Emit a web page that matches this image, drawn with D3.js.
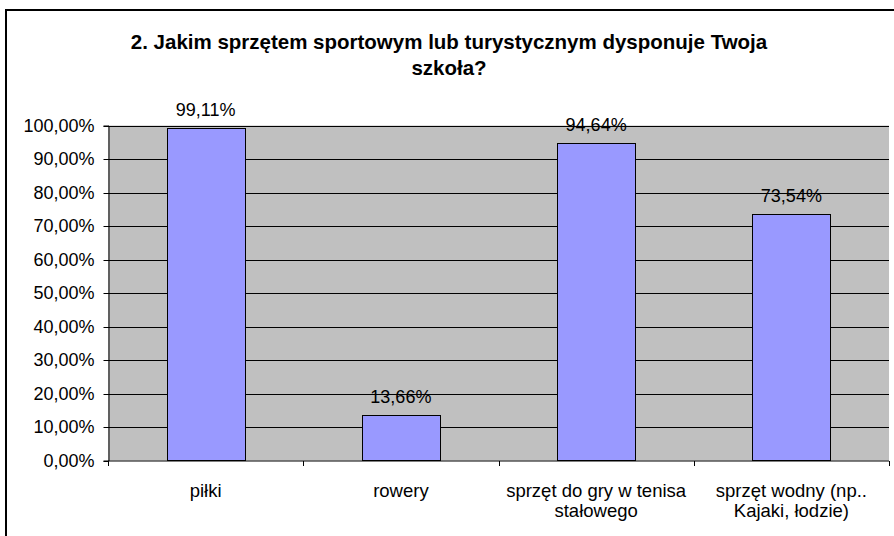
<!DOCTYPE html>
<html><head><meta charset="utf-8">
<script src="https://cdn.jsdelivr.net/npm/d3@7"></script>
<style>body{margin:0;background:#fff}svg{display:block;font-family:"Liberation Sans",Arial,sans-serif}</style>
</head><body>
<svg id="c" width="894" height="536"></svg>
<script>
const categories = [["piłki"], ["rowery"], ["sprzęt do gry w tenisa", "stałowego"], ["sprzęt wodny (np..", "Kajaki, łodzie)"]];
const values = [0.9911, 0.1366, 0.9464, 0.7354];
const valueLabels = ["99,11%", "13,66%", "94,64%", "73,54%"];
const yTicks = [0, 0.1, 0.2, 0.3, 0.4, 0.5, 0.6, 0.7, 0.8, 0.9, 1.0];
const titleLines = ["2. Jakim sprzętem sportowym lub turystycznym dysponuje Twoja", "szkoła?"];

const svg = d3.select("#c");
const L = 108, R = 889, T = 125.5, B = 460.5;

// outer frame
svg.append("rect").attr("x", 6).attr("y", 10).attr("width", 1000).attr("height", 1000)
  .attr("fill", "none").attr("stroke", "#000").attr("stroke-width", 2);

svg.selectAll("text.title").data(titleLines).join("text")
  .attr("x", 449).attr("y", (d, i) => 49 + i * 26)
  .attr("text-anchor", "middle").attr("font-weight", "bold").attr("font-size", 20.5)
  .text(d => d);

const x = d3.scaleBand().domain(d3.range(categories.length)).range([L, R]).paddingInner(0.6).paddingOuter(0.3);
const xc = d3.scaleBand().domain(d3.range(categories.length)).range([L, R]);
const y = d3.scaleLinear().domain([0, 1]).range([B, T]);

svg.append("rect").attr("x", L).attr("y", T).attr("width", R - L).attr("height", B - T).attr("fill", "#C0C0C0");

// gridlines
svg.append("g").selectAll("line").data(yTicks.slice(1)).join("line")
  .attr("x1", L).attr("x2", R).attr("y1", d => Math.round(y(d)) + 0.5).attr("y2", d => Math.round(y(d)) + 0.5)
  .attr("stroke", "#000").attr("stroke-width", 1);

const fmt = v => d3.format(".2f")(v * 100).replace(".", ",") + "%";
const yAxis = d3.axisLeft(y).tickValues(yTicks).tickFormat(fmt).tickSize(5).tickPadding(9);
const gy = svg.append("g").attr("transform", `translate(${L + 0.5},0)`).call(yAxis);
gy.selectAll("text").attr("font-size", 18).attr("fill", "#000").attr("font-family", "Liberation Sans, Arial, sans-serif");
gy.selectAll("line,path").attr("stroke", "#000");
gy.selectAll(".tick").attr("transform", d => `translate(0,${Math.round(y(d)) + 0.5})`);

// bars
svg.append("g").selectAll("rect").data(values).join("rect")
  .attr("x", (d, i) => Math.round(x(i)) + 0.5).attr("width", Math.round(x.bandwidth()))
  .attr("y", d => Math.round(y(d)) + 0.5).attr("height", d => B - Math.round(y(d)) - 0.5)
  .attr("fill", "#9999FF").attr("stroke", "#000").attr("stroke-width", 1);

// x axis
const gx = svg.append("g").attr("transform", `translate(0,${B + 0.5})`);
gx.append("line").attr("x1", L).attr("x2", R).attr("stroke", "#000");
gx.selectAll("line.tk").data(d3.range(categories.length + 1)).join("line").attr("class", "tk")
  .attr("x1", i => Math.round(L + i * xc.bandwidth()) + 0.5).attr("x2", i => Math.round(L + i * xc.bandwidth()) + 0.5)
  .attr("y1", 0).attr("y2", 5).attr("stroke", "#000");

svg.append("g").selectAll("text").data(categories).join("text")
  .attr("text-anchor", "middle").attr("font-size", 18.5)
  .attr("transform", (d, i) => `translate(${xc(i) + xc.bandwidth() / 2},497)`)
  .selectAll("tspan").data(d => d).join("tspan")
  .attr("x", 0).attr("y", (d, i) => i * 20).text(d => d);

// value labels
svg.append("g").selectAll("text").data(values).join("text")
  .attr("x", (d, i) => x(i) + x.bandwidth() / 2).attr("y", d => y(d) - 12)
  .attr("text-anchor", "middle").attr("font-size", 18).text((d, i) => valueLabels[i]);
</script>
</body></html>
